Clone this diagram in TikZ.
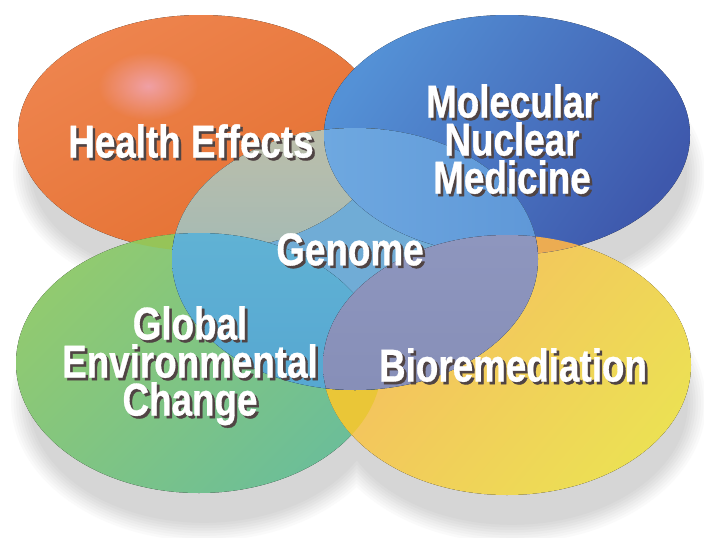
\documentclass[tikz,border=0pt]{standalone}
\usepackage{fontspec}
\newfontfamily\lblfont{Liberation Sans}[UprightFont=* Bold, FakeStretch=0.8, FakeBold=0.7]
\usetikzlibrary{fadings}
\definecolor{orA}{RGB}{238,132,78}
\definecolor{orB}{RGB}{228,112,48}
\definecolor{blA}{RGB}{84,145,214}
\definecolor{blB}{RGB}{62,88,172}
\definecolor{grA}{RGB}{145,202,112}
\definecolor{grB}{RGB}{108,190,152}
\definecolor{yeA}{RGB}{246,188,96}
\definecolor{yeB}{RGB}{236,224,84}
\definecolor{ogC}{RGB}{150,196,88}
\definecolor{gyC}{RGB}{234,198,55}
\definecolor{byC}{RGB}{236,172,82}
\definecolor{ceC}{RGB}{112,172,214}
\definecolor{coA}{RGB}{210,194,160}
\definecolor{coB}{RGB}{165,186,180}
\definecolor{cgA}{RGB}{96,178,212}
\definecolor{cgB}{RGB}{80,160,208}
\definecolor{cbA}{RGB}{110,168,224}
\definecolor{cbB}{RGB}{84,140,210}
\definecolor{cyA}{RGB}{142,150,190}
\definecolor{cyB}{RGB}{130,138,180}
\definecolor{hlpink}{RGB}{240,160,165}
\definecolor{txsh}{RGB}{80,68,68}
\tikzfading[name=softspot, inner color=transparent!0, outer color=transparent!100]
\def\pOr{(201,133) ellipse [x radius=183, y radius=118]}
\def\pBl{(507,135) ellipse [x radius=183, y radius=120]}
\def\pGr{(199,363) ellipse [x radius=183, y radius=130]}
\def\pYe{(507,365) ellipse [x radius=184, y radius=130]}
\def\pCe{(355,259) ellipse [x radius=183, y radius=131]}
\newcommand\shtext[1]{\leavevmode
  \rlap{\kern2.6pt\raisebox{-2.6pt}{\textcolor{txsh}{#1}}}#1}
\tikzset{
  lbl/.style={font=\lblfont\fontsize{46}{38}\selectfont, text=white, inner sep=0pt, align=center, anchor=north}
}
\begin{document}
\begin{tikzpicture}[x=1pt,y=-1pt]
\useasboundingbox (0,0) rectangle (704,538);
\fill[white] (0,0) rectangle (704,538);
% soft drop shadows
\foreach \k in {0,...,7}{
  \pgfmathsetmacro{\d}{10-2.6*\k}
  \pgfmathsetmacro{\g}{2+2*\k}
  \fill[black!\g] (206,171) ellipse [x radius={183+\d}, y radius={118+\d}];
  \fill[black!\g] (512,173) ellipse [x radius={183+\d}, y radius={120+\d}];
  \fill[black!\g] (204,401) ellipse [x radius={183+\d}, y radius={130+\d}];
  \fill[black!\g] (512,403) ellipse [x radius={184+\d}, y radius={130+\d}];
}
% main ellipses
\fill[top color=orA, bottom color=orB, shading angle=30] \pOr;
\fill[hlpink, path fading=softspot] (148,86) ellipse [x radius=50, y radius=34];
\fill[top color=grA, bottom color=grB, shading angle=45] \pGr;
\fill[top color=yeA, bottom color=yeB, shading angle=50] \pYe;
\fill[top color=blA, bottom color=blB, shading angle=55] \pBl;
% pairwise overlaps
\begin{scope}\clip \pOr; \fill[ogC] \pGr; \end{scope}
\begin{scope}\clip \pGr; \fill[gyC] \pYe; \end{scope}
\begin{scope}\clip \pBl; \fill[byC] \pYe; \end{scope}
% centre ellipse (Genome)
\fill[ceC] \pCe;
\begin{scope}
  \clip \pCe;
  \fill[top color=coA, bottom color=coB] \pOr;
  \fill[top color=cgA, bottom color=cgB] \pGr;
  \fill[left color=cbA, right color=cbB] \pBl;
  \fill[top color=cyA, bottom color=cyB] \pYe;
\end{scope}
% labels
\node[lbl] (health) at (191,124) {\shtext{Health Effects}};
\node[lbl] (molecular) at (512,84) {\shtext{Molecular}\\\shtext{Nuclear}\\\shtext{Medicine}};
\node[lbl] (genome) at (350,233) {\shtext{Genome}};
\node[lbl] (global) at (190,306) {\shtext{Global}\\\shtext{Environmental}\\\shtext{Change}};
\node[lbl] (bioremediation) at (513,348) {\shtext{Bioremediation}};
\end{tikzpicture}
\end{document}
